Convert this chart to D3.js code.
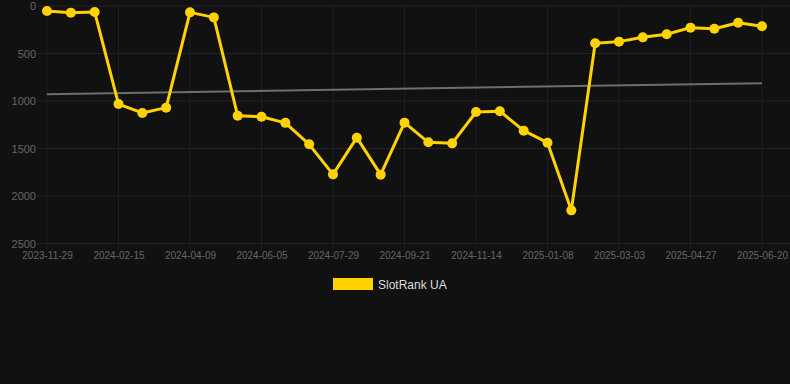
<!DOCTYPE html>
<html>
<head>
<meta charset="utf-8">
<script src="https://cdn.jsdelivr.net/npm/d3@7"></script>
<style>
  body { margin: 0; background: #111111; }
  svg { display: block; font-family: "Liberation Sans", Arial, sans-serif; }
</style>
</head>
<body>
<div class="chart"></div>
<script>
// every point is a category, only every 3rd date is labelled
var dates = ["2023-11-29", "2023-12-25", "2024-01-20", "2024-02-15", "2024-03-05", "2024-03-22",
  "2024-04-09", "2024-04-28", "2024-05-17", "2024-06-05", "2024-06-23", "2024-07-11",
  "2024-07-29", "2024-08-16", "2024-09-03", "2024-09-21", "2024-10-09", "2024-10-27",
  "2024-11-14", "2024-12-02", "2024-12-20", "2025-01-08", "2025-01-26", "2025-02-13",
  "2025-03-03", "2025-03-21", "2025-04-08", "2025-04-27", "2025-05-15", "2025-06-02", "2025-06-20"];
var rankUA = [53, 70, 63, 1032, 1126, 1070, 67, 120, 1156, 1165, 1230, 1456,
  1772, 1386, 1775, 1228, 1435, 1446, 1116, 1107, 1312, 1439, 2151, 393,
  375, 330, 298, 228, 239, 176, 214];
var trend = [930, 812]; // first and last point of the trend line
var yTicks = [0, 500, 1000, 1500, 2000, 2500];
var seriesName = "SlotRank UA";

var width = 790, height = 384;
var font = '"Liberation Sans", Arial, sans-serif';
var svg = d3.select(".chart").append("svg")
  .attr("width", width)
  .attr("height", height);

var x = d3.scalePoint()
  .domain(dates)
  .range([47, 762]);

var y = d3.scaleLinear()
  .domain([0, 2500])
  .range([6, 243.5]);

var labelled = dates.filter(function(d, i) { return i % 3 == 0; });

// grid
svg.append("g")
  .selectAll("line")
  .data(yTicks)
  .enter().append("line")
  .attr("x1", 37).attr("x2", width)
  .attr("y1", function(d) { return y(d); })
  .attr("y2", function(d) { return y(d); })
  .attr("stroke", "#222")
  .attr("stroke-width", 1);

svg.append("g")
  .selectAll("line")
  .data(labelled)
  .enter().append("line")
  .attr("x1", function(d) { return x(d); })
  .attr("x2", function(d) { return x(d); })
  .attr("y1", y(0))
  .attr("y2", 250)
  .attr("stroke", "#1e1e1e")
  .attr("stroke-width", 1);

// axes
var yAxis = svg.append("g")
  .attr("transform", "translate(36,0)")
  .attr("font-family", font)
  .call(d3.axisLeft(y).tickValues(yTicks).tickFormat(d3.format("d")).tickSize(0).tickPadding(0));
yAxis.select(".domain").remove();
yAxis.selectAll("text")
  .attr("fill", "#666")
  .style("font-size", "11px");

var xAxis = svg.append("g")
  .attr("transform", "translate(0,252)")
  .attr("font-family", font)
  .call(d3.axisBottom(x).tickValues(labelled).tickSize(0).tickPadding(0));
xAxis.select(".domain").remove();
xAxis.selectAll("text")
  .attr("fill", "#666")
  .style("font-size", "10px");

// trend line
svg.append("line")
  .attr("x1", x(dates[0]))
  .attr("x2", x(dates[dates.length - 1]))
  .attr("y1", y(trend[0]))
  .attr("y2", y(trend[1]))
  .attr("stroke", "#6e6e6e")
  .attr("stroke-width", 2);

// series
var line = d3.line()
  .x(function(d, i) { return x(dates[i]); })
  .y(function(d) { return y(d); });

svg.append("path")
  .datum(rankUA)
  .attr("fill", "none")
  .attr("stroke", "#ffd200")
  .attr("stroke-width", 3)
  .attr("stroke-linejoin", "round")
  .attr("d", line);

svg.append("g")
  .selectAll("circle")
  .data(rankUA)
  .enter().append("circle")
  .attr("cx", function(d, i) { return x(dates[i]); })
  .attr("cy", function(d) { return y(d); })
  .attr("r", 5)
  .attr("fill", "#ffd200");

// legend
var legend = svg.append("g").attr("class", "legend");
legend.append("rect")
  .attr("x", 333)
  .attr("y", 278)
  .attr("width", 40)
  .attr("height", 12)
  .attr("fill", "#ffd200");
legend.append("text")
  .attr("x", 378)
  .attr("y", 288.5)
  .attr("fill", "#dddddd")
  .style("font-size", "12px")
  .text(seriesName);
</script>
</body>
</html>
